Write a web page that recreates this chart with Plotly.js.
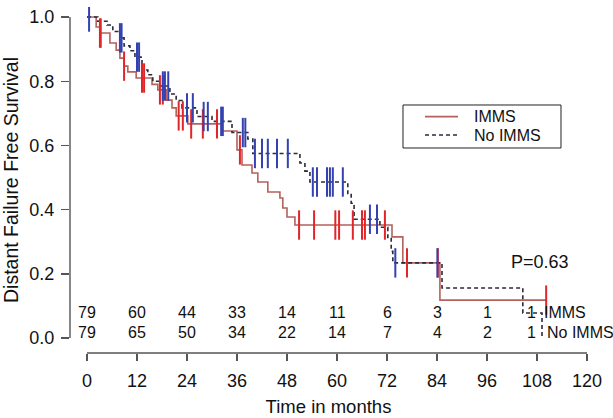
<!DOCTYPE html>
<html>
<head>
<meta charset="utf-8">
<script src="https://cdn.plot.ly/plotly-3.0.1.min.js"></script>
<style>html,body{margin:0;padding:0;background:#fff}#chart{width:613px;height:418px}</style>
</head>
<body>
<div id="chart"></div>
<script>
// ---- Data ----
var immsTimes = [0, 2.2, 3.1, 5.5, 7.0, 7.9, 8.9, 9.8, 11.8, 15.6, 17.0, 19.0, 20.4, 21.4, 24.2, 32.4, 36.0, 37.2, 39.6, 41.0, 43.4, 46.3, 47.0, 48.0, 49.9, 73.2, 75.8, 84.7];
var immsSurv  = [1, 0.969, 0.950, 0.919, 0.897, 0.872, 0.847, 0.829, 0.810, 0.790, 0.773, 0.741, 0.717, 0.692, 0.667, 0.645, 0.586, 0.539, 0.514, 0.486, 0.455, 0.436, 0.405, 0.377, 0.352, 0.315, 0.234, 0.118];
var immsEnd = 110.2;
var immsCensor = [3.1, 3.3, 8.9, 13.2, 13.7, 17.5, 18.2, 22.0, 23.0, 25.0, 27.8, 31.2, 36.7, 50.9, 54.5, 59.6, 60.5, 63.8, 66.0, 66.7, 71.5, 76.8, 84.2, 110.2];

var noTimes = [0, 2.6, 4.8, 6.2, 7.9, 8.9, 10.3, 11.5, 13.2, 14.6, 15.8, 17.5, 19.9, 21.4, 22.8, 26.4, 30.0, 34.8, 38.6, 39.8, 51.1, 52.3, 53.5, 62.6, 63.4, 64.1, 70.3, 72.2, 73.0, 73.4, 85.2, 104.6, 109.2];
var noSurv  = [1, 0.987, 0.975, 0.955, 0.935, 0.910, 0.895, 0.875, 0.835, 0.820, 0.800, 0.785, 0.760, 0.740, 0.717, 0.690, 0.675, 0.640, 0.620, 0.575, 0.545, 0.520, 0.486, 0.450, 0.420, 0.370, 0.345, 0.310, 0.270, 0.234, 0.156, 0.078, 0];
var noEnd = 109.2;
var noCensor = [0.5, 7.9, 8.3, 12.0, 12.5, 18.2, 18.7, 19.5, 24.0, 25.4, 28.0, 29.0, 32.2, 32.6, 37.4, 38.0, 40.3, 42.0, 43.4, 45.6, 48.2, 54.2, 55.2, 57.6, 58.3, 59.0, 61.4, 67.9, 69.6, 74.0, 84.1];

var riskTimes = [0, 12, 24, 36, 48, 60, 72, 84, 96, 108];
var riskImms  = [79, 60, 44, 33, 14, 11, 6, 3, 1, 1];
var riskNo    = [79, 65, 50, 34, 22, 14, 7, 4, 2, 1];

var seriesNames = ['IMMS', 'No IMMS'];
var xTicks = [0, 12, 24, 36, 48, 60, 72, 84, 96, 108, 120];
var yTicks = [0, 0.2, 0.4, 0.6, 0.8, 1.0];
var pText = "P=0.63";

// ---- helpers ----
function survAt(ts, ss, c) {
  var v = ss[0];
  for (var i = 0; i < ts.length; i++) { if (ts[i] <= c) v = ss[i]; }
  return v;
}
function stepLine(ts, ss, end) {
  var x = ts.slice(), y = ss.slice();
  if (end > x[x.length - 1]) { x.push(end); y.push(y[y.length - 1]); }
  return {x: x, y: y};
}

var FONT = '"Liberation Sans", Arial, Helvetica, sans-serif';
var immsLineColor = '#b3625c';
var immsTickColor = '#e0262a';
var noLineColor = '#2b2b3c';
var noTickColor = '#3342b0';
var noDash = '4px,3px';

var immsStep = stepLine(immsTimes, immsSurv, immsEnd);
var noStep = stepLine(noTimes, noSurv, noEnd);

var traces = [
  {x: immsStep.x, y: immsStep.y, mode: 'lines', line: {shape: 'hv', color: immsLineColor, width: 1.6}, name: seriesNames[0], showlegend: false, hoverinfo: 'skip'},
  {x: noStep.x, y: noStep.y, mode: 'lines', line: {shape: 'hv', color: noLineColor, width: 1.6, dash: noDash}, name: seriesNames[1], showlegend: false, hoverinfo: 'skip'},
  {x: immsCensor, y: immsCensor.map(function(c){return survAt(immsTimes, immsSurv, c);}), mode: 'markers', showlegend: false,
   marker: {symbol: 'line-ns-open', size: 21, color: immsTickColor, line: {color: immsTickColor, width: 2}}, hoverinfo: 'skip'},
  {x: noCensor, y: noCensor.map(function(c){return survAt(noTimes, noSurv, c);}), mode: 'markers', showlegend: false,
   marker: {symbol: 'line-ns-open', size: 21, color: noTickColor, line: {color: noTickColor, width: 2}}, hoverinfo: 'skip'}
];

var txt = {family: FONT, size: 16, color: '#111'};
var annotations = [];
riskTimes.forEach(function(t, i) {
  var xs = (i === riskTimes.length - 1) ? -6 : 0;
  annotations.push({x: t, y: 0.078, xref: 'x', yref: 'y', yanchor: 'middle', text: String(riskImms[i]), showarrow: false, xshift: xs, font: txt});
  annotations.push({x: t, y: 0.016, xref: 'x', yref: 'y', yanchor: 'middle', text: String(riskNo[i]), showarrow: false, xshift: xs, font: txt});
});
annotations.push({x: 109.3, y: 0.078, xref: 'x', yref: 'y', yanchor: 'middle', text: seriesNames[0], showarrow: false, xanchor: 'left', font: txt});
annotations.push({x: 109.9, y: 0.016, xref: 'x', yref: 'y', yanchor: 'middle', text: seriesNames[1], showarrow: false, xanchor: 'left', font: txt});
annotations.push({x: 108.6, y: 0.237, xref: 'x', yref: 'y', yanchor: 'middle', text: pText, showarrow: false, xanchor: 'center',
  font: {family: FONT, size: 18, color: '#111'}});

// legend (drawn box, keys and labels)
var lgX0 = 0.6441, lgX1 = 0.9497, lgY0 = 0.5925, lgY1 = 0.7168;
var keyX0 = 0.6867, keyX1 = 0.7505, labX = 0.7776;
var rowY = [0.683, 0.630];
annotations.push({x: labX, y: rowY[0], xref: 'paper', yref: 'paper', yanchor: 'middle', text: seriesNames[0], showarrow: false, xanchor: 'left', font: txt});
annotations.push({x: labX, y: rowY[1], xref: 'paper', yref: 'paper', yanchor: 'middle', text: seriesNames[1], showarrow: false, xanchor: 'left', font: txt});

var layout = {
  width: 613, height: 418,
  margin: {l: 70, r: 26, t: 7, b: 65, pad: 0},
  paper_bgcolor: '#fff', plot_bgcolor: '#fff',
  font: {family: FONT, size: 17, color: '#111'},
  showlegend: false,
  xaxis: {range: [-4.08, 120], tickvals: xTicks, ticktext: xTicks.map(String), ticks: 'outside', ticklen: 7, tickwidth: 1.4,
    tickcolor: '#555', showline: false, showgrid: false, zeroline: false, ticklabelstandoff: 4,
    tickfont: {family: FONT, size: 18, color: '#111'},
    title: {text: 'Time in months', font: {family: FONT, size: 18.5, color: '#111'}, standoff: 10}},
  yaxis: {range: [-0.0467, 1.0312], tickvals: yTicks, ticktext: yTicks.map(function(v){return v.toFixed(1);}), ticks: 'outside', ticklen: 8, tickwidth: 1.4,
    tickcolor: '#555', showline: false, showgrid: false, zeroline: false, ticklabelstandoff: 3,
    tickfont: {family: FONT, size: 18, color: '#111'},
    title: {text: 'Distant Failure Free Survival', font: {family: FONT, size: 19.5, color: '#111'}, standoff: 6}},
  shapes: [
    {type: 'line', xref: 'x', yref: 'paper', x0: 0, x1: 120, y0: 0, y1: 0, line: {color: '#555', width: 1.4}},
    {type: 'line', xref: 'paper', yref: 'y', x0: 0, x1: 0, y0: 0, y1: 1, line: {color: '#555', width: 1.4}},
    {type: 'rect', xref: 'paper', yref: 'paper', x0: lgX0, x1: lgX1, y0: lgY0, y1: lgY1, line: {color: '#222', width: 1}, fillcolor: 'rgba(0,0,0,0)'},
    {type: 'line', xref: 'paper', yref: 'paper', x0: keyX0, x1: keyX1, y0: rowY[0], y1: rowY[0], line: {color: immsLineColor, width: 1.8}},
    {type: 'line', xref: 'paper', yref: 'paper', x0: keyX0, x1: keyX1, y0: rowY[1], y1: rowY[1], line: {color: noLineColor, width: 1.6, dash: noDash}}
  ],
  annotations: annotations
};

Plotly.newPlot('chart', traces, layout, {displayModeBar: false, staticPlot: true});
</script>
</body>
</html>
